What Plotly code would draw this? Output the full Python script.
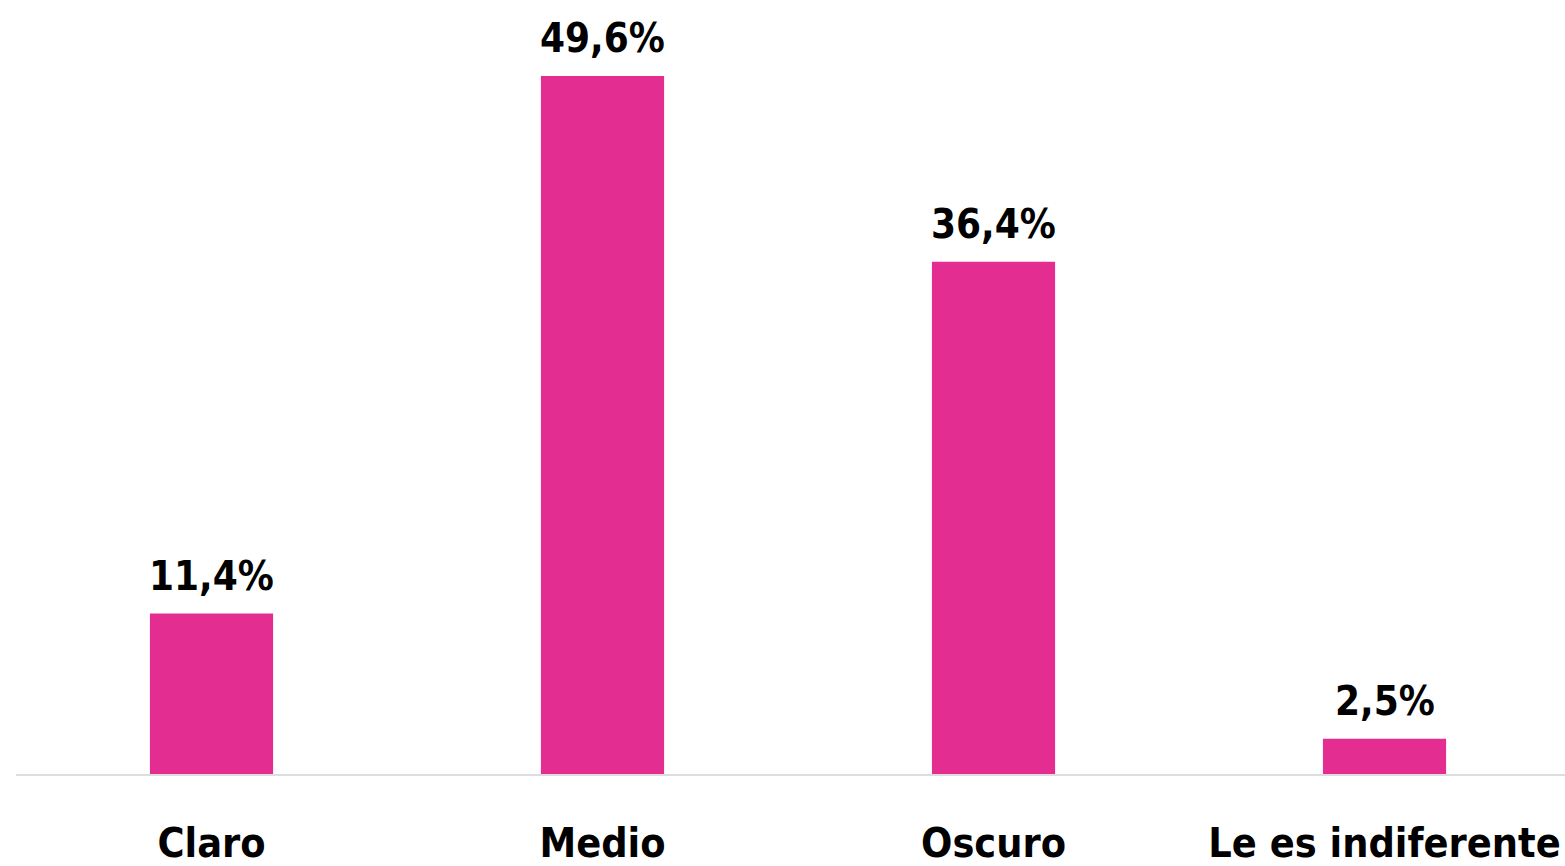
import plotly.graph_objects as go

categories = ["Claro", "Medio", "Oscuro", "Le es indiferente"]
values = [11.4, 49.6, 36.4, 2.5]
labels = ["11,4%", "49,6%", "36,4%", "2,5%"]

FONT = "DejaVu Sans Condensed"

fig = go.Figure(go.Bar(
    x=categories,
    y=values,
    marker=dict(color="#E32D91", line=dict(width=0)),
    width=0.315,
    hoverinfo="skip",
))

for c, v, t in zip(categories, values, labels):
    fig.add_annotation(
        x=c, y=v, text=t, showarrow=False,
        xanchor="center", yanchor="bottom", yshift=13,
        font=dict(family=FONT, size=40, color="#000000", weight="bold"),
    )

fig.update_layout(
    width=1565, height=866,
    margin=dict(l=16, r=0, t=0, b=92, autoexpand=False),
    paper_bgcolor="white", plot_bgcolor="white",
    showlegend=False,
    xaxis=dict(
        range=[-0.5, 3.4616],
        automargin=False,
        showgrid=False, zeroline=False,
        showline=True, linecolor="#dddddd", linewidth=2,
        ticks="", ticklabelstandoff=32,
        tickfont=dict(family=FONT, size=41, color="#000000", weight="bold"),
    ),
    yaxis=dict(range=[0, 55], visible=False, automargin=False),
)

fig.write_html(
    "out.html",
    config={"displayModeBar": False},
    post_script="document.body.style.margin='0';document.body.style.overflow='hidden';",
)
